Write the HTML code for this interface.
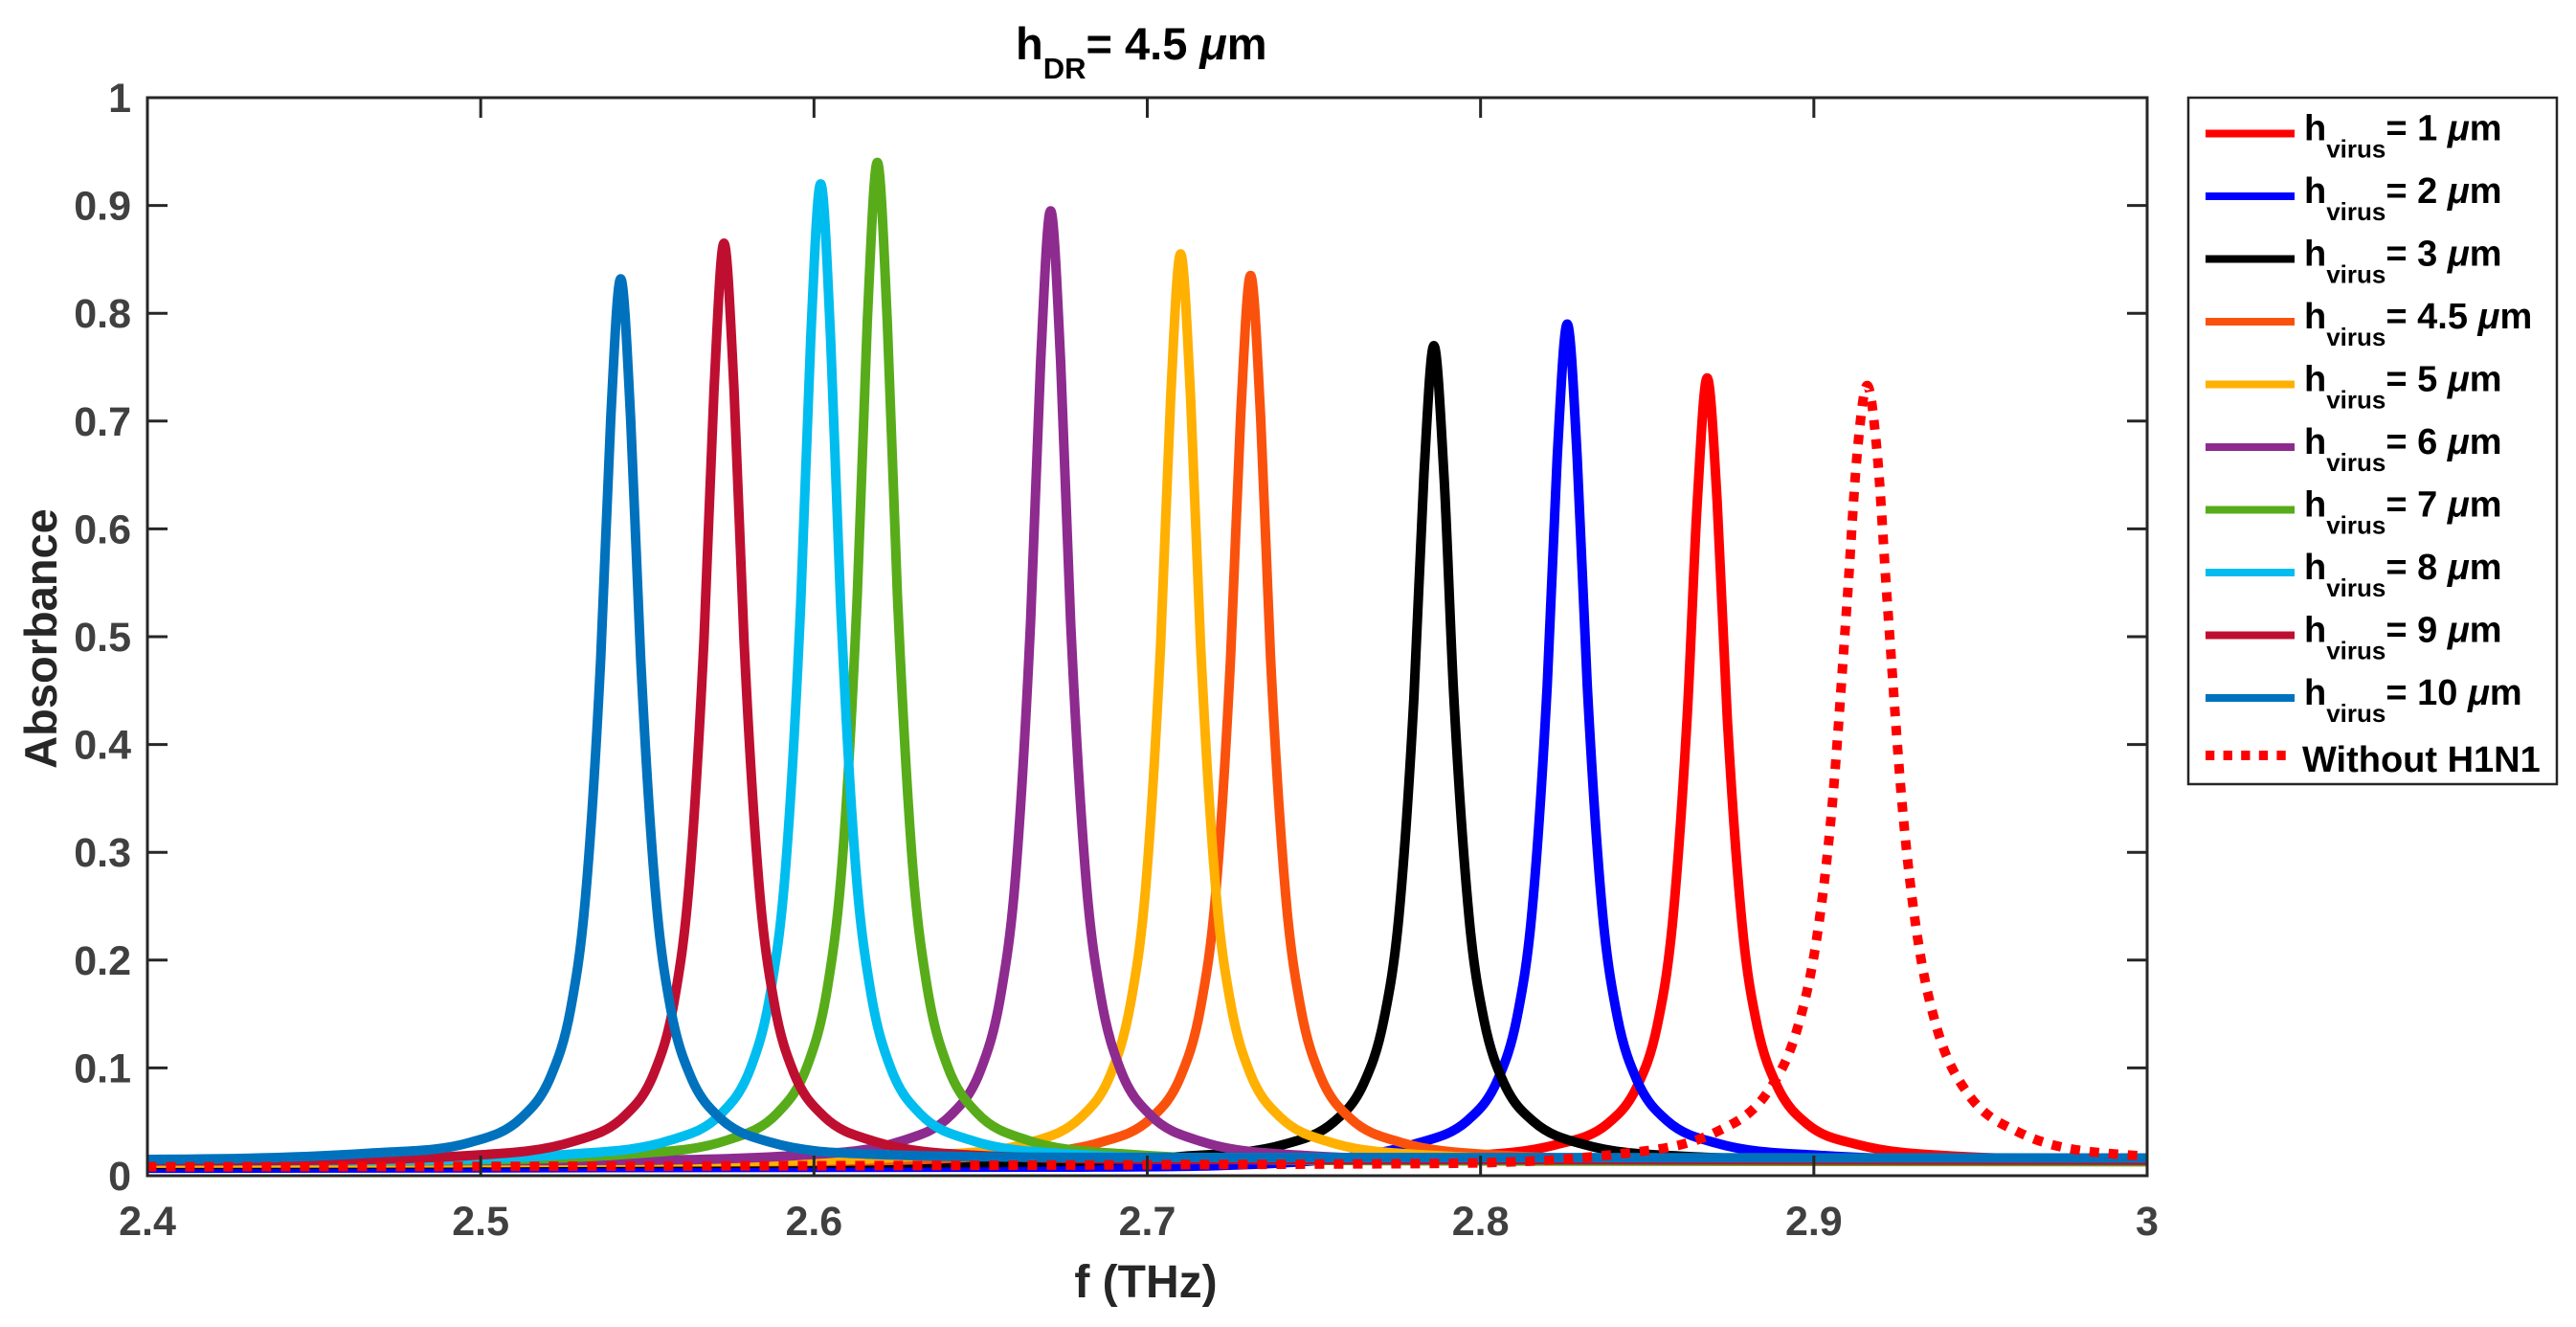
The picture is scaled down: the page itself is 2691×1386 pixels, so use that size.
<!DOCTYPE html>
<html><head><meta charset="utf-8"><title>Absorbance vs frequency</title>
<style>
html,body{margin:0;padding:0;background:#fff;}
svg{display:block;font-family:"Liberation Sans",Arial,sans-serif;}
</style></head>
<body>
<svg id="chart" width="2691" height="1386" viewBox="0 0 2691 1386" xmlns="http://www.w3.org/2000/svg">
<rect x="0" y="0" width="2691" height="1386" fill="#fff"/>
<g id="plot-lines"></g>
<g id="axes"></g>
<text x="1061" y="62" font-size="47" font-weight="bold" fill="#000">h<tspan font-size="31" dy="20">DR</tspan><tspan dy="-20">= 4.5 </tspan><tspan font-style="italic">μ</tspan>m</text>
<text x="1197" y="1355" font-size="48" font-weight="bold" fill="#262626" text-anchor="middle">f (THz)</text>
<text x="0" y="0" transform="translate(59,667) rotate(-90)" font-size="47" font-weight="bold" fill="#262626" text-anchor="middle">Absorbance</text>
<g id="legend"></g>
</svg>
<script>
// ---- data ----
const seriesNames = ["1", "2", "3", "4.5", "5", "6", "7", "8", "9", "10", "Without H1N1"];
const seriesColors = ["#ff0000", "#0000ff", "#000000", "#fa520d", "#ffb000", "#8e2b8f", "#58ac1a", "#00bdef", "#bf0f30", "#0072bd", "#ff0000"];
const peakFreqs = [2.868, 2.826, 2.786, 2.731, 2.710, 2.671, 2.619, 2.602, 2.573, 2.542, 2.916];
const offsets = [-0.7, -0.15, -0.075, -0.045, -0.03, -0.021, -0.015, -0.0105, -0.006, -0.003, 0, 0.003, 0.006, 0.0105, 0.015, 0.021, 0.03, 0.045, 0.075, 0.15, 0.7];
const vals1 = [0.012,0.014,0.018,0.029,0.048,0.083,0.139,0.232,0.426,0.624,0.74,0.624,0.426,0.232,0.139,0.083,0.048,0.029,0.018,0.014,0.012];
const vals2 = [0.006,0.008,0.014,0.03,0.051,0.088,0.148,0.247,0.455,0.666,0.79,0.666,0.455,0.247,0.148,0.088,0.051,0.03,0.019,0.014,0.012];
const vals3 = [0.009,0.012,0.018,0.029,0.05,0.086,0.145,0.241,0.443,0.65,0.77,0.65,0.443,0.241,0.145,0.086,0.05,0.029,0.018,0.014,0.012];
const vals45 = [0.01,0.013,0.019,0.031,0.053,0.092,0.156,0.261,0.48,0.704,0.835,0.704,0.48,0.261,0.156,0.092,0.053,0.031,0.019,0.014,0.012];
const vals5 = [0.01,0.013,0.019,0.031,0.054,0.094,0.16,0.267,0.492,0.721,0.855,0.721,0.492,0.267,0.16,0.094,0.054,0.031,0.019,0.014,0.012];
const vals6 = [0.012,0.014,0.019,0.032,0.056,0.098,0.167,0.279,0.514,0.755,0.895,0.755,0.514,0.279,0.167,0.098,0.056,0.032,0.019,0.014,0.012];
const vals7 = [0.012,0.014,0.02,0.033,0.058,0.102,0.174,0.292,0.54,0.792,0.94,0.792,0.54,0.292,0.174,0.102,0.058,0.033,0.02,0.014,0.012];
const vals8 = [0.012,0.014,0.02,0.033,0.057,0.1,0.171,0.286,0.529,0.776,0.92,0.776,0.529,0.286,0.171,0.1,0.057,0.033,0.02,0.015,0.014];
const vals9 = [0.012,0.014,0.019,0.032,0.055,0.095,0.161,0.27,0.497,0.729,0.865,0.729,0.497,0.27,0.161,0.095,0.055,0.032,0.019,0.015,0.014];
const vals10 = [0.013,0.015,0.021,0.031,0.053,0.092,0.155,0.26,0.479,0.702,0.832,0.702,0.479,0.26,0.155,0.092,0.053,0.031,0.02,0.017,0.016];
const valsWithout = [0.008,0.011,0.02,0.041,0.077,0.136,0.223,0.344,0.534,0.67,0.733,0.67,0.534,0.344,0.223,0.136,0.077,0.041,0.02,0.014,0.012];
const seriesValues = [vals1, vals2, vals3, vals45, vals5, vals6, vals7, vals8, vals9, vals10, valsWithout];
const xTicks = [2.4, 2.5, 2.6, 2.7, 2.8, 2.9, 3];
const xTickLabels = ["2.4", "2.5", "2.6", "2.7", "2.8", "2.9", "3"];
const yTicks = [0, 0.1, 0.2, 0.3, 0.4, 0.5, 0.6, 0.7, 0.8, 0.9, 1];
const yTickLabels = ["0", "0.1", "0.2", "0.3", "0.4", "0.5", "0.6", "0.7", "0.8", "0.9", "1"];

// ---- layout ----
const NS = "http://www.w3.org/2000/svg";
const L = 154, R = 2243, T = 102, B = 1228;
const X0 = 2.4, X1 = 3.0, Y0 = 0, Y1 = 1;
function xScale(v){ return L + (v - X0) / (X1 - X0) * (R - L); }
function yScale(v){ return B - (v - Y0) / (Y1 - Y0) * (B - T); }
function mk(tag, attrs, parent){
  const e = document.createElementNS(NS, tag);
  for (const k in attrs) e.setAttribute(k, attrs[k]);
  parent.appendChild(e);
  return e;
}
// monotone cubic (Fritsch-Carlson) path through pixel points
function monotonePath(xs, ys){
  const n = xs.length, d = [], m = [];
  for (let i = 0; i < n - 1; i++) d.push((ys[i+1] - ys[i]) / (xs[i+1] - xs[i]));
  m.push(d[0]);
  for (let i = 1; i < n - 1; i++) m.push(d[i-1] * d[i] <= 0 ? 0 : (d[i-1] + d[i]) / 2);
  m.push(d[n-2]);
  for (let i = 0; i < n - 1; i++) {
    if (d[i] === 0) { m[i] = 0; m[i+1] = 0; continue; }
    const a = m[i] / d[i], b = m[i+1] / d[i], s = a*a + b*b;
    if (s > 9) { const t = 3 / Math.sqrt(s); m[i] = t*a*d[i]; m[i+1] = t*b*d[i]; }
  }
  let p = "M" + xs[0].toFixed(1) + "," + ys[0].toFixed(1);
  for (let i = 0; i < n - 1; i++) {
    const h = (xs[i+1] - xs[i]) / 3;
    p += " C" + (xs[i]+h).toFixed(1) + "," + (ys[i]+m[i]*h).toFixed(1) + " " +
         (xs[i+1]-h).toFixed(1) + "," + (ys[i+1]-m[i+1]*h).toFixed(1) + " " +
         xs[i+1].toFixed(1) + "," + ys[i+1].toFixed(1);
  }
  return p;
}

const defs = mk("defs", {}, document.getElementById("chart"));
const cp = mk("clipPath", {id: "plotclip"}, defs);
mk("rect", {x: L, y: T - 10, width: R - L, height: B - T + 10}, cp);

const lines = document.getElementById("plot-lines");
lines.setAttribute("clip-path", "url(#plotclip)");
seriesValues.forEach(function(vals, i){
  const xs = [], ys = [];
  for (let j = 0; j < offsets.length; j++) {
    xs.push(xScale(peakFreqs[i] + offsets[j]));
    ys.push(yScale(vals[j]));
  }
  const dotted = i === seriesValues.length - 1;
  const p = mk("path", {
    d: monotonePath(xs, ys), fill: "none", stroke: seriesColors[i],
    "stroke-width": 10, "stroke-linejoin": "round",
    "stroke-dasharray": dotted ? "10 10" : "none"
  }, lines);
  
  
});

const axes = document.getElementById("axes");
const box = mk("rect", {x: L, y: T, width: R - L, height: B - T, fill: "none", stroke: "#262626", "stroke-width": 3}, axes);


const TL = 21;
xTicks.forEach(function(v, i){
  const x = xScale(v);
  mk("line", {x1: x, y1: B, x2: x, y2: B - TL, stroke: "#262626", "stroke-width": 3}, axes);
  mk("line", {x1: x, y1: T, x2: x, y2: T + TL, stroke: "#262626", "stroke-width": 3}, axes);
  const t = mk("text", {x: x, y: 1290, "font-size": 43, "font-weight": "bold", fill: "#404040", "text-anchor": "middle"}, axes);
  t.textContent = xTickLabels[i];
  
  
});
yTicks.forEach(function(v, i){
  const y = yScale(v);
  mk("line", {x1: L, y1: y, x2: L + TL, y2: y, stroke: "#262626", "stroke-width": 3}, axes);
  mk("line", {x1: R, y1: y, x2: R - TL, y2: y, stroke: "#262626", "stroke-width": 3}, axes);
  const t = mk("text", {x: 137, y: y + 15, "font-size": 43, "font-weight": "bold", fill: "#404040", "text-anchor": "end"}, axes);
  t.textContent = yTickLabels[i];
  
  
});

const lg = document.getElementById("legend");
const lbox = mk("rect", {x: 2286, y: 102, width: 385, height: 717, fill: "#fff", stroke: "#262626", "stroke-width": 2.5}, lg);


seriesNames.forEach(function(name, i){
  const dotted = i === seriesNames.length - 1;
  const cy = dotted ? 789 : 139.5 + i * 65.5;
  const ln = mk("line", {x1: 2304, y1: cy, x2: dotted ? 2388 : 2397, y2: cy, stroke: seriesColors[i], "stroke-width": dotted ? 10 : 8, "stroke-dasharray": dotted ? "9.3 9.3" : "none"}, lg);
  
  
  const t = mk("text", {x: dotted ? 2405 : 2407, y: cy + (dotted ? 17 : 7), "font-size": 38, "font-weight": "bold", fill: "#000"}, lg);
  
  
  if (dotted) {
    t.textContent = name;
  } else {
    const a = document.createElementNS(NS, "tspan"); a.textContent = "h"; t.appendChild(a);
    const b = document.createElementNS(NS, "tspan"); b.setAttribute("font-size", "26"); b.setAttribute("dy", "18"); b.textContent = "virus"; t.appendChild(b);
    const c = document.createElementNS(NS, "tspan"); c.setAttribute("dy", "-18"); c.textContent = "= " + name + " "; t.appendChild(c);
    const d = document.createElementNS(NS, "tspan"); d.setAttribute("font-style", "italic"); d.textContent = "μ"; t.appendChild(d);
    const e = document.createElementNS(NS, "tspan"); e.textContent = "m"; t.appendChild(e);
  }
});
</script>
</body></html>
